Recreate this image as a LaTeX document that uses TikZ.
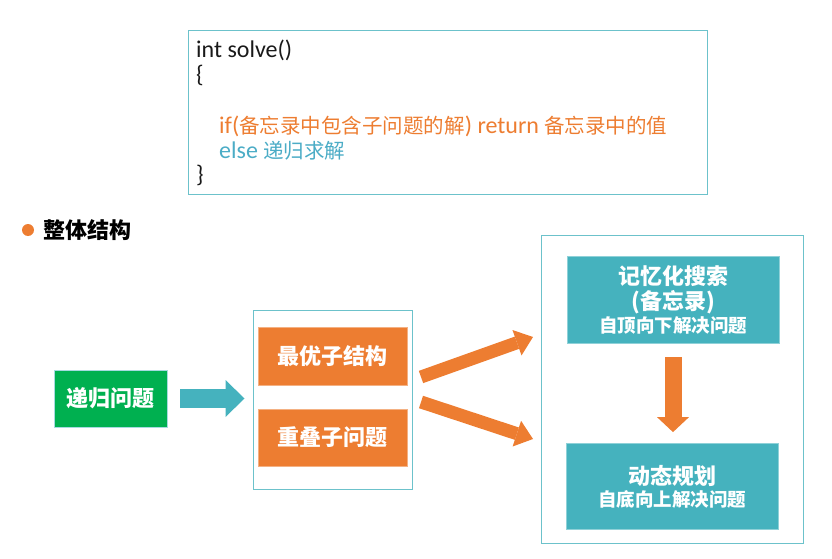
\documentclass[tikz,border=0pt]{standalone}
\usepackage{fontspec}
\setmainfont{Carlito}
\newfontfamily\cjk{Noto Sans CJK SC}
\usetikzlibrary{arrows.meta}
\definecolor{orng}{HTML}{ED7D31}
\definecolor{tealb}{HTML}{45B2BE}
\definecolor{tealt}{HTML}{4BACC6}
\definecolor{frame}{HTML}{6CC2CB}
\definecolor{grn}{HTML}{00B050}
\newcommand\zh[1]{{\fontsize{20.5}{24}\cjk #1}}
\tikzset{
  frm/.style={draw=frame, line width=1pt, rectangle, inner sep=0pt},
  codeline/.style={anchor=base west, inner sep=0pt, font=\fontsize{24}{26}\selectfont},
  boxtxt/.style={rectangle, inner sep=0pt, text=white, font=\fontsize{22}{26}\selectfont\cjk\bfseries, align=center},
  obox/.style={boxtxt, fill=orng, draw=orng!60!white, line width=0.8pt, minimum width=149pt},
  tbox/.style={boxtxt, fill=tealb, draw=tealb!60!white, line width=0.8pt, minimum width=212pt},
  oarrow/.style={draw=orng, line width=13pt, -{Triangle[length=17pt,width=27pt,line width=0pt]}},
}
\begin{document}
\begin{tikzpicture}[x=1pt,y=-1pt]
\useasboundingbox (0,0) rectangle (832,559);
% code box
\node[frm, minimum width=519pt, minimum height=163pt] (code) at (447.5,112.5) {};
\node[codeline, text=black!90] (c1) at (196,58) {int solve()};
\node[codeline, text=black!90] (c2) at (196,83) {\{};
\node[codeline, text=orng] (c4) at (219,134) {if(\zh{备忘录中包含子问题的解}) return \zh{备忘录中的值}};
\node[codeline, text=tealt] (c5) at (219,158) {else \zh{递归求解}};
\node[codeline, text=black!90] (c6) at (196,182) {\}};
% title
\node[circle, fill=orng, minimum size=12pt, inner sep=0pt] (dot) at (28,230) {};
\node[anchor=west, inner sep=0pt, font=\fontsize{22}{26}\selectfont\cjk\bfseries] (title) at (43,230) {整体结构};
% containers
\node[frm, minimum width=159pt, minimum height=179pt] (mid) at (332.5,399.5) {};
\node[frm, minimum width=262pt, minimum height=308pt] (right) at (672,389) {};
% boxes
\node[boxtxt, fill=grn, draw=frame!60!white, line width=0.8pt, minimum width=113pt, minimum height=57pt] (rec) at (110.5,398.5) {递归问题};
\node[obox, minimum height=58pt] (opt) at (332.5,356) {最优子结构};
\node[obox, minimum height=57pt] (ovl) at (332.5,437.5) {重叠子问题};
\node[tbox, minimum height=87pt] (memo) at (673,299.5) {记忆化搜索\\[-1pt](备忘录)\\[-3pt]{\fontsize{18.5}{22}\selectfont 自顶向下解决问题}};
\node[tbox, minimum height=86pt] (dp) at (672,486.5) {动态规划\\[-4pt]{\fontsize{18.5}{22}\selectfont 自底向上解决问题}};
% arrows
\draw[draw=tealb, line width=19pt, -{Triangle[length=19pt,width=37pt,line width=0pt]}, shorten <=13pt, shorten >=8pt] (rec.east |- 0,398.5) -- (mid.west |- 0,398.5);
\coordinate (u1) at (421,377);
\coordinate (u2) at (533,337);
\coordinate (l1) at (421,402);
\coordinate (l2) at (533,439);
\draw[oarrow] (u1) -- (u2);
\draw[oarrow] (l1) -- (l2);
\draw[draw=orng, line width=17pt, -{Triangle[length=15pt,width=32pt,line width=0pt]}, shorten <=14pt, shorten >=11pt] (memo.south) -- (memo.south |- dp.north);
\end{tikzpicture}
\end{document}
